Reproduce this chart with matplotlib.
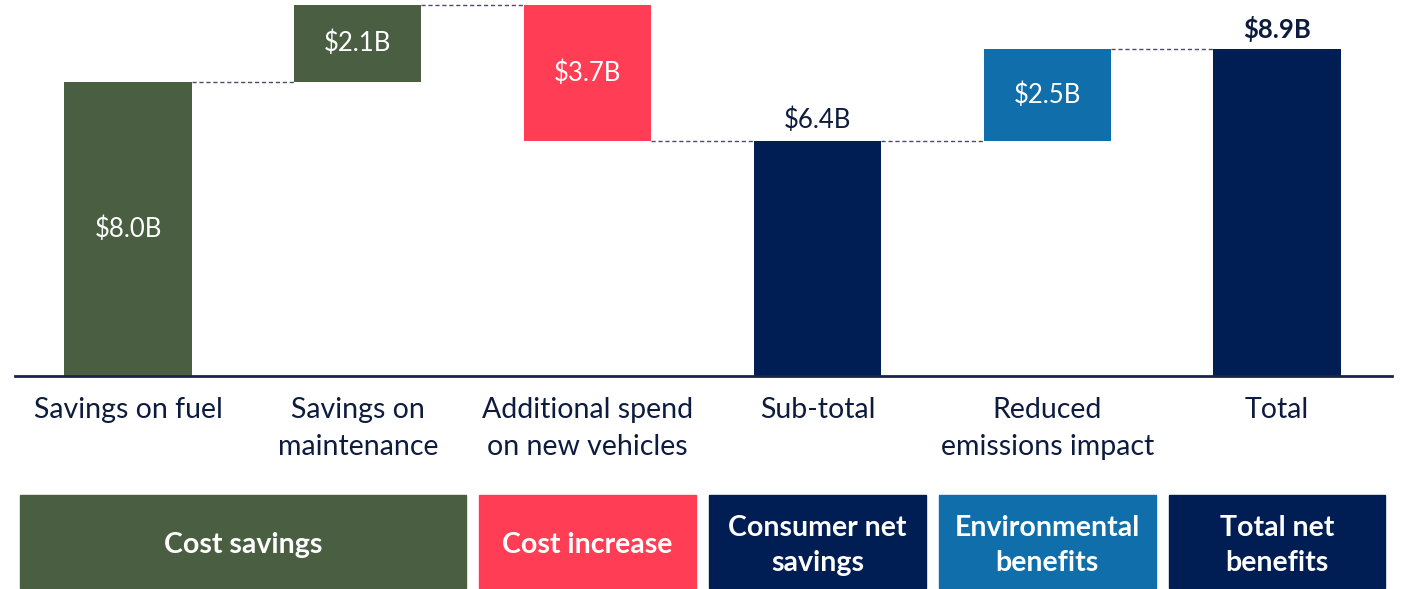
import matplotlib
matplotlib.use("Agg")
import matplotlib.pyplot as plt
import matplotlib.transforms as transforms
from matplotlib.patches import Rectangle

plt.rcParams['font.family'] = ['Lato', 'DejaVu Sans']

# data
categories = ["Savings on fuel", "Savings on\nmaintenance", "Additional spend\non new vehicles",
              "Sub-total", "Reduced\nemissions impact", "Total"]
steps = [8.0, 2.1, -3.7, None, 2.5, None]   # None = running total bar
labels = ["$8.0B", "$2.1B", "$3.7B", "$6.4B", "$2.5B", "$8.9B"]

groups = ["Cost savings", "Cost increase", "Consumer net\nsavings",
          "Environmental\nbenefits", "Total net\nbenefits"]
group_first = [0, 2, 3, 4, 5]
group_last = [1, 2, 3, 4, 5]

GREEN = "#4a5e42"
RED = "#ff3e55"
NAVY = "#001d54"
BLUE = "#106eaa"
TEXT = "#0d1b3e"
bar_colors = [GREEN, GREEN, RED, NAVY, BLUE, NAVY]
group_colors = [GREEN, RED, NAVY, BLUE, NAVY]

fig = plt.figure(figsize=(14.02, 5.89), dpi=100)
ax = fig.add_axes([15 / 1402, 1 - 376 / 589, (1392 - 15) / 1402, 376 / 589])

# waterfall geometry
bottoms, heights, running = [], [], 0.0
for s in steps:
    if s is None:
        bottoms.append(0.0)
        heights.append(running)
    elif s >= 0:
        bottoms.append(running)
        heights.append(s)
        running += s
    else:
        running += s
        bottoms.append(running)
        heights.append(-s)

x = list(range(len(categories)))
width = 0.553
ax.bar(x, heights, bottom=bottoms, width=width, color=bar_colors, zorder=2)

# dashed connectors between bars
level = 0.0
for i, s in enumerate(steps[:-1]):
    level = heights[i] if s is None else level + s
    ax.plot([i + width / 2, i + 1 - width / 2], [level, level], ls=(0, (3, 2)),
            color="#4a4f66", lw=1, zorder=1)

# value labels
for i, s in enumerate(steps):
    if s is None:
        ax.text(i, bottoms[i] + heights[i] + 0.2, labels[i], ha="center", va="bottom",
                fontsize=18.5, color=TEXT, fontweight="bold" if i == len(steps) - 1 else "normal")
    else:
        ax.text(i, bottoms[i] + heights[i] / 2, labels[i], ha="center", va="center",
                fontsize=18.5, color="white")

ax.set_xlim(-0.4917, 5.5004)
ax.set_ylim(0, 10.23)
ax.set_xticks(x)
ax.set_xticklabels(categories, fontsize=20.5, color=TEXT, linespacing=1.55)
ax.tick_params(axis="x", length=0, pad=15)
ax.set_yticks([])
for side in ["top", "right", "left"]:
    ax.spines[side].set_visible(False)
ax.spines["bottom"].set_color("#1b2448")
ax.spines["bottom"].set_linewidth(2)
ax.patch.set_alpha(0)

# group boxes under the axis
trans = transforms.blended_transform_factory(ax.transData, ax.transAxes)
shift = transforms.ScaledTranslation(0, -4 / 100, fig.dpi_scale_trans)
y0, y1 = -0.5638, -0.3165
for name, a, b, c in zip(groups, group_first, group_last, group_colors):
    ax.add_patch(Rectangle((a - 0.472, y0), (b - a) + 0.944, y1 - y0, transform=trans,
                           color=c, clip_on=False))
    ax.text((a + b) / 2, (y0 + y1) / 2, name, transform=trans + shift, ha="center",
            va="center", color="white", fontsize=20.5, fontweight="bold", linespacing=1.45)

fig.savefig("out.png", dpi=100)
